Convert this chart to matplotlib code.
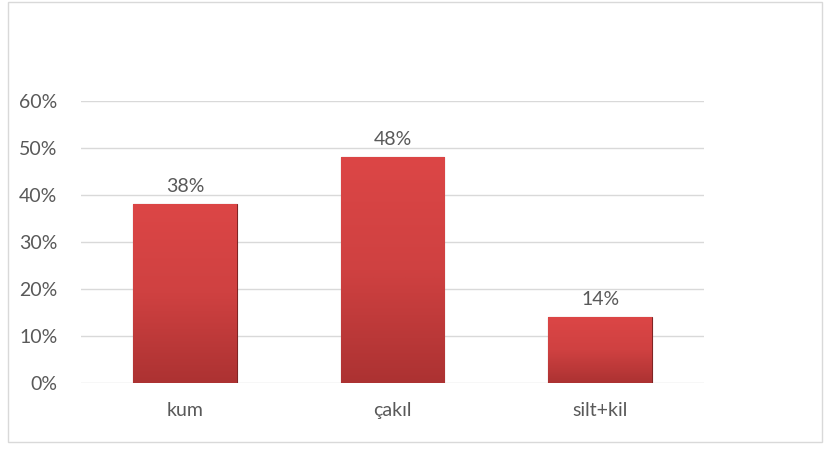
import matplotlib
matplotlib.use("Agg")
import matplotlib.pyplot as plt
import numpy as np
from matplotlib.patches import Rectangle
from matplotlib.colors import LinearSegmentedColormap
from matplotlib.ticker import FuncFormatter

plt.rcParams['font.family'] = ['Lato', 'DejaVu Sans']

categories = ["kum", "çakıl", "silt+kil"]
values = [0.38, 0.48, 0.14]
yticks = [0, 0.1, 0.2, 0.3, 0.4, 0.5, 0.6]

TEXT = '#595959'
GRID = '#d9d9d9'

fig = plt.figure(figsize=(8.3, 4.5), dpi=100)
# outer chart border
fig.patches.append(Rectangle((8 / 830, 1 - 442 / 450), 814 / 830, 440 / 450,
                             transform=fig.transFigure, fill=False,
                             edgecolor='#d9d9d9', linewidth=1.0))

ax = fig.add_axes([81 / 830, 1 - 383 / 450, 623 / 830, 282 / 450])
x = np.arange(len(categories))
bars = ax.bar(x, values, width=0.5, color='#c63c3c', edgecolor='#7f2424',
              linewidth=0.8, zorder=3)

# vertical gradient inside each bar
cmap = LinearSegmentedColormap.from_list('redgrad', ['#dc4646', '#cf4141', '#ac3232'])
grad = np.linspace(0, 1, 256).reshape(-1, 1)
for b in bars:
    x0, w, h = b.get_x(), b.get_width(), b.get_height()
    im = ax.imshow(grad, cmap=cmap, aspect='auto', extent=(x0, x0 + w, 0, h),
                   origin='upper', zorder=3.5)
    im.set_clip_path(b)
    ax.text(x0 + w / 2, h + 0.02, f"{int(round(h * 100))}%", ha='center',
            va='bottom', fontsize=14, color=TEXT, zorder=5)

ax.set_xlim(-0.5, len(categories) - 0.5)
ax.set_ylim(0, 0.6)
ax.set_yticks(yticks)
ax.yaxis.set_major_formatter(FuncFormatter(lambda v, _: f"{int(round(v * 100))}%"))
ax.set_xticks(x)
ax.set_xticklabels(categories)
ax.tick_params(axis='both', length=0, labelsize=14, colors=TEXT)
ax.tick_params(axis='x', pad=14)
ax.tick_params(axis='y', pad=17)
for s in ax.spines.values():
    s.set_visible(False)
ax.yaxis.grid(True, color=GRID, linewidth=1.0, zorder=0)
ax.set_axisbelow(True)

fig.savefig('out.png', dpi=100)
